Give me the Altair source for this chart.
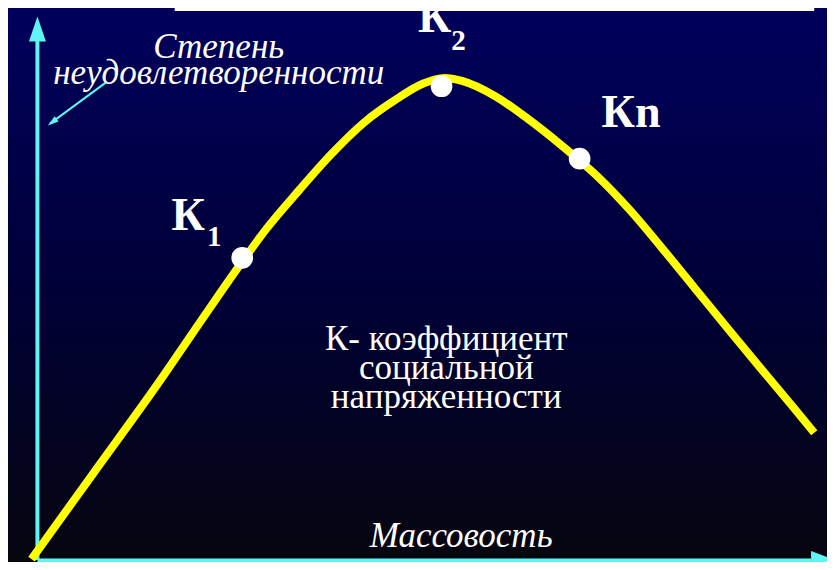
import altair as alt
import pandas as pd

# ---- data (abstract units: Массовость 0..100 along x, Степень 0..~110 along y) ----
curve_x = [-0.75, 7.1, 15.4, 21.6, 26.1, 29.1, 33.4, 37.5, 41.6, 45.9, 49.1, 51.9,
           54.1, 58.4, 62.5, 66.6, 69.1, 71.6, 75.4, 79.6, 83.75, 87.9, 92.1, 96.25, 99.0]
curve_y = [0.2, 17.8, 36.4, 51.0, 61.4, 68.0, 76.2, 83.6, 90.0, 95.0, 98.0, 99.2,
           98.6, 95.4, 90.8, 85.6, 82.2, 78.6, 72.2, 64.2, 56.0, 47.8, 39.6, 31.6, 26.2]

point_names = ["К1", "К2", "Кn"]
point_x = [26.1, 51.5, 69.1]
point_y = [62.2, 97.5, 82.6]

label_text = ["К", "К", "Кn"]
label_x = [17.1, 48.5, 71.9]
label_y = [68.0, 108.6, 89.2]

sub_text = ["1", "2"]
sub_x = [21.6, 52.75]
sub_y = [64.6, 105.0]

ytitle_lines = ["Степень", "неудовлетворенности"]
ytitle_x = [23.1, 23.1]
ytitle_y = [103.4, 98.0]

xtitle = ["Массовость"]
xtitle_x = [54.0]
xtitle_y = [2.6]

note_lines = ["К- коэффициент", "социальной", "напряженности"]
note_x = [52.1, 52.1, 52.1]
note_y = [43.3, 37.3, 31.3]

# axes (arrows)
yaxis_x = [0.0, 0.0]
yaxis_y = [0.0, 106.8]
yhead_x = [0.0]
yhead_y = [109.3]
xaxis_x = [0.0, 98.6]
xaxis_y = [-0.1, -0.1]
xhead_x = [100.19]
xhead_y = [-0.1]
small_arrow_x = [8.75, 1.6]
small_arrow_y = [98.3, 89.8]
small_head_x = [1.89]
small_head_y = [90.1]
top_line_x = [17.5]
top_line_x2 = [99.0]
top_line_y = [113.3]

W, H = 819, 554
XS = alt.Scale(domain=[-3.75, 100.625], nice=False, zero=False)
YS = alt.Scale(domain=[-0.4, 113.6], nice=False, zero=False)
FONT = "'Liberation Serif', 'DejaVu Serif', 'Noto Serif', 'Times New Roman', Times, Tinos, FreeSerif, serif"
CYAN = "#5ff5f5"


def X(f="x"):
    return alt.X(f"{f}:Q", scale=XS, axis=None)


def Y(f="y"):
    return alt.Y(f"{f}:Q", scale=YS, axis=None)


bg = alt.Chart(pd.DataFrame({"a": [0]})).mark_rect(
    color=alt.Gradient(
        gradient="linear",
        stops=[alt.GradientStop(color="#00005c", offset=0),
               alt.GradientStop(color="#000038", offset=0.5),
               alt.GradientStop(color="#06060f", offset=1)],
        x1=0, x2=0, y1=0, y2=1,
    )
).encode(x=alt.value(0), x2=alt.value(W), y=alt.value(0), y2=alt.value(H))

top_line = alt.Chart(pd.DataFrame({"x": top_line_x, "x2": top_line_x2, "y": top_line_y})).mark_rule(
    color="white", strokeWidth=3
).encode(x=X(), x2="x2:Q", y=Y())

yaxis = alt.Chart(pd.DataFrame({"x": yaxis_x, "y": yaxis_y})).mark_line(
    color=CYAN, strokeWidth=4
).encode(x=X(), y=Y())
yhead = alt.Chart(pd.DataFrame({"x": yhead_x, "y": yhead_y})).mark_point(
    shape="M0,-1L0.68,1L-0.68,1Z", filled=True, opacity=1, color=CYAN, size=625, strokeWidth=0
).encode(x=X(), y=Y())

xaxis = alt.Chart(pd.DataFrame({"x": xaxis_x, "y": xaxis_y})).mark_line(
    color=CYAN, strokeWidth=4
).encode(x=X(), y=Y())
xhead = alt.Chart(pd.DataFrame({"x": xhead_x, "y": xhead_y})).mark_point(
    shape="M1,0L-1,-0.76L-1,0.76Z", filled=True, opacity=1, color=CYAN, size=625, strokeWidth=0
).encode(x=X(), y=Y())

small_arrow = alt.Chart(pd.DataFrame({"x": small_arrow_x, "y": small_arrow_y})).mark_line(
    color=CYAN, strokeWidth=2
).encode(x=X(), y=Y())
small_head = alt.Chart(pd.DataFrame({"x": small_head_x, "y": small_head_y})).mark_point(
    shape="M0,-1L0.6,1L-0.6,1Z", filled=True, opacity=1, color=CYAN, size=121, strokeWidth=0,
    angle=233
).encode(x=X(), y=Y())

curve = alt.Chart(pd.DataFrame({"x": curve_x, "y": curve_y, "o": list(range(len(curve_x)))})).mark_line(
    color="#ffff00", strokeWidth=8, interpolate="monotone"
).encode(x=X(), y=Y(), order="o:Q")

points = alt.Chart(pd.DataFrame({"x": point_x, "y": point_y, "name": point_names})).mark_circle(
    color="white", opacity=1, size=470
).encode(x=X(), y=Y())

labels = alt.Chart(pd.DataFrame({"x": label_x, "y": label_y, "t": label_text})).mark_text(
    fontWeight="bold", fontSize=46, color="white", align="left", baseline="alphabetic"
).encode(x=X(), y=Y(), text="t:N")

subs = alt.Chart(pd.DataFrame({"x": sub_x, "y": sub_y, "t": sub_text})).mark_text(
    fontWeight="bold", fontSize=29, color="white", align="left", baseline="alphabetic"
).encode(x=X(), y=Y(), text="t:N")

ytitle = alt.Chart(pd.DataFrame({"x": ytitle_x, "y": ytitle_y, "t": ytitle_lines})).mark_text(
    fontStyle="italic", fontSize=35, color="white", align="center", baseline="alphabetic"
).encode(x=X(), y=Y(), text="t:N")

xtitle_c = alt.Chart(pd.DataFrame({"x": xtitle_x, "y": xtitle_y, "t": xtitle})).mark_text(
    fontStyle="italic", fontSize=35, color="white", align="center", baseline="alphabetic"
).encode(x=X(), y=Y(), text="t:N")

note = alt.Chart(pd.DataFrame({"x": note_x, "y": note_y, "t": note_lines})).mark_text(
    fontSize=35, color="white", align="center", baseline="alphabetic"
).encode(x=X(), y=Y(), text="t:N")

chart = alt.layer(
    bg, top_line, yaxis, yhead, xaxis, xhead, small_arrow, small_head,
    curve, points, labels, subs, ytitle, xtitle_c, note
).properties(
    width=W, height=H, padding=0, autosize="none", background="#000020"
).configure(font=FONT).configure_text(font=FONT).configure_view(strokeWidth=0)

chart.save("out.html", embed_options={"renderer": "svg", "actions": False})
